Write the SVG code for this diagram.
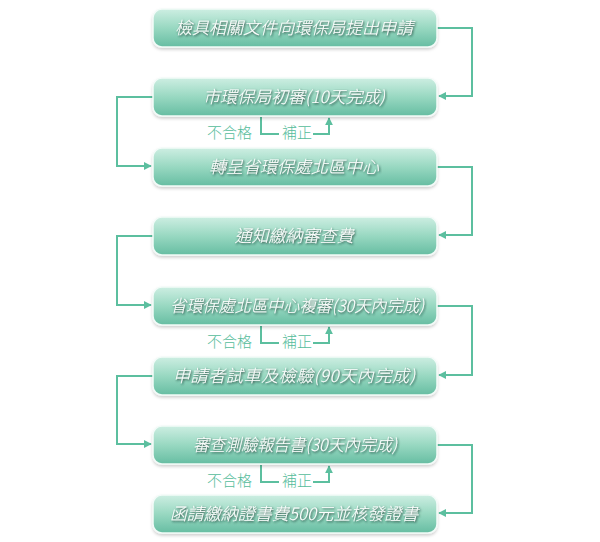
<svg xmlns="http://www.w3.org/2000/svg" width="600" height="542" viewBox="0 0 600 542">
<defs>
<linearGradient id="g" x1="0" y1="0" x2="0" y2="1">
<stop offset="0" stop-color="#cdeee2"/>
<stop offset="0.5" stop-color="#98d8c1"/>
<stop offset="1" stop-color="#66bda2"/>
</linearGradient>
<filter id="bs" x="-10%" y="-30%" width="120%" height="170%">
<feDropShadow dx="0" dy="2" stdDeviation="1.5" flood-color="#000" flood-opacity="0.18"/>
</filter>
<filter id="ts" x="-10%" y="-30%" width="120%" height="170%">
<feDropShadow dx="1" dy="1.2" stdDeviation="0.9" flood-color="#16302a" flood-opacity="0.95"/>
</filter>
<marker id="ah" viewBox="0 0 10 10" refX="9" refY="5" markerWidth="4" markerHeight="4" orient="auto">
<path d="M0,0 L10,5 L0,10 z" fill="#5cbf9f"/>
</marker>
</defs>
<style>
.box{fill:url(#g);stroke:#f2fbf8;stroke-width:1.5;filter:url(#bs)}
.t{font-family:"Noto Sans CJK TC","Noto Sans CJK SC",sans-serif;font-size:17px;font-weight:300;fill:#fff;font-style:italic;text-anchor:middle;filter:url(#ts)}
.c{fill:none;stroke:#5cbf9f;stroke-width:2}
.l{font-family:"Noto Sans CJK TC","Noto Sans CJK SC",sans-serif;font-size:15px;font-weight:300;fill:#55bc9b}
</style>
<rect width="600" height="542" fill="#fff"/>
<g id="connectors">
<path class="c" d="M437,28 H472 V96 H439" marker-end="url(#ah)"/>
<path class="c" d="M153,97 H117 V166 H151" marker-end="url(#ah)"/>
<path class="c" d="M437,167 H472 V235 H439" marker-end="url(#ah)"/>
<path class="c" d="M153,236 H117 V305 H151" marker-end="url(#ah)"/>
<path class="c" d="M437,306 H472 V375 H439" marker-end="url(#ah)"/>
<path class="c" d="M153,376 H117 V444 H151" marker-end="url(#ah)"/>
<path class="c" d="M437,445 H472 V513 H439" marker-end="url(#ah)"/>
<path class="c" d="M261,117 V134 H279"/>
<path class="c" d="M313,134 H329 V118" marker-end="url(#ah)"/>
<path class="c" d="M261,326 V343 H279"/>
<path class="c" d="M313,343 H329 V327" marker-end="url(#ah)"/>
<path class="c" d="M261,465 V482 H279"/>
<path class="c" d="M313,482 H329 V466" marker-end="url(#ah)"/>
</g>
<g id="n1"><rect class="box" x="153" y="9" width="284" height="38" rx="9"/><text class="t" x="294" y="34">檢具相關文件向環保局提出申請</text></g>
<g id="n2"><rect class="box" x="153" y="78" width="284" height="38" rx="9"/><text class="t" x="294" y="103">市環保局初審(10天完成)</text></g>
<g id="n3"><rect class="box" x="153" y="148" width="284" height="38" rx="9"/><text class="t" x="294" y="173">轉呈省環保處北區中心</text></g>
<g id="n4"><rect class="box" x="153" y="217" width="284" height="38" rx="9"/><text class="t" x="294" y="242">通知繳納審查費</text></g>
<g id="n5"><rect class="box" x="153" y="287" width="284" height="38" rx="9"/><text class="t" x="297" y="312" textLength="254" lengthAdjust="spacingAndGlyphs">省環保處北區中心複審(30天內完成)</text></g>
<g id="n6"><rect class="box" x="153" y="357" width="284" height="38" rx="9"/><text class="t" x="294" y="382" textLength="242" lengthAdjust="spacing">申請者試車及檢驗(90天內完成)</text></g>
<g id="n7"><rect class="box" x="153" y="426" width="284" height="38" rx="9"/><text class="t" x="295" y="451" textLength="204" lengthAdjust="spacingAndGlyphs">審查測驗報告書(30天內完成)</text></g>
<g id="n8"><rect class="box" x="153" y="495" width="284" height="38" rx="9"/><text class="t" x="294" y="520">函請繳納證書費500元並核發證書</text></g>
<g id="labels">
<text class="l" x="207" y="138">不合格</text><text class="l" x="282" y="138">補正</text>
<text class="l" x="207" y="347">不合格</text><text class="l" x="282" y="347">補正</text>
<text class="l" x="207" y="486">不合格</text><text class="l" x="282" y="486">補正</text>
</g>
</svg>
